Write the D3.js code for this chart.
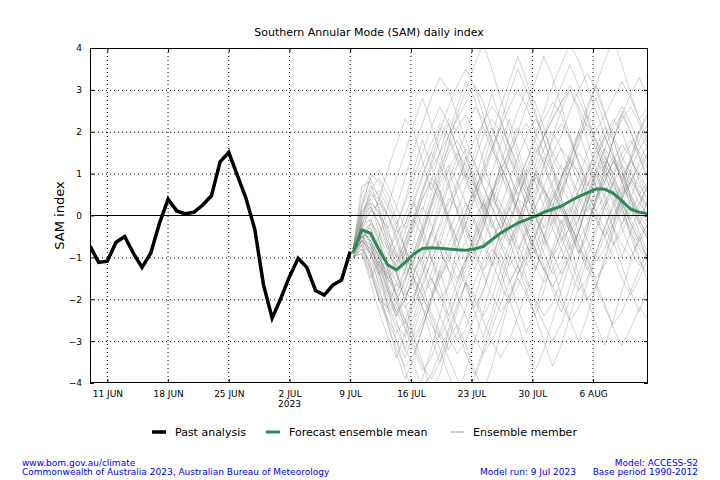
<!DOCTYPE html>
<html>
<head>
<meta charset="utf-8">
<script src="https://cdn.jsdelivr.net/npm/d3@7"></script>
<style>
  html, body { margin: 0; padding: 0; background: #fff; }
  svg { display: block; font-family: "DejaVu Sans", sans-serif; }
</style>
</head>
<body>
<svg id="chart" width="720" height="480"></svg>
<script>
// ---------- DATA ----------
const titleText = "Southern Annular Mode (SAM) daily index";
const yLabelText = "SAM index";
const yTicks = [-4, -3, -2, -1, 0, 1, 2, 3, 4];
const xTickDates = ["2023-06-11", "2023-06-18", "2023-06-25", "2023-07-02", "2023-07-09", "2023-07-16", "2023-07-23", "2023-07-30", "2023-08-06"];
const xDomain = ["2023-06-09T00:00Z", "2023-08-12T08:00Z"];

const pastStart = "2023-06-09T00:00Z";
const pastValues = [-0.73, -1.12, -1.09, -0.64, -0.50, -0.90, -1.24, -0.90, -0.19, 0.39,
  0.11, 0.04, 0.08, 0.25, 0.47, 1.28, 1.51, 0.95, 0.40, -0.33,
  -1.65, -2.45, -1.98, -1.46, -1.02, -1.24, -1.79, -1.90, -1.66, -1.54, -0.86];

const forecastStart = "2023-07-09T08:00Z";
const meanValues = [-0.88, -0.35, -0.42, -0.82, -1.18, -1.30, -1.12, -0.92, -0.79, -0.77,
  -0.78, -0.80, -0.82, -0.83, -0.80, -0.74, -0.58, -0.42, -0.30, -0.18,
  -0.10, -0.02, 0.08, 0.15, 0.22, 0.34, 0.45, 0.54, 0.63, 0.63,
  0.53, 0.35, 0.15, 0.08, 0.04];

const member01 = [-0.9,-0.2,0.3,0.1,-0.4,-0.9,-1.4,-1.1,-0.5,0.2,0.9,1.5,1.8,1.4,0.8,0.3,-0.2,-0.6,-0.3,0.4,1.1,1.6,1.3,0.7,0.2,-0.4,-0.9,-0.5,0.3,1.0,1.4,1.1,0.5,0.0,-0.3];
const member02 = [-1.0,-0.6,-0.9,-1.5,-2.1,-2.6,-2.9,-2.4,-1.8,-1.5,-1.9,-2.5,-3.0,-2.7,-2.0,-1.3,-0.8,-1.1,-1.6,-1.2,-0.5,0.2,0.6,0.3,-0.3,-0.8,-0.4,0.3,0.9,1.3,0.8,0.2,-0.5,-1.1,-1.4];
const member03 = [-0.8,0.0,0.6,0.9,0.5,-0.1,-0.8,-1.5,-1.9,-1.6,-1.0,-0.4,0.1,0.7,1.3,1.9,2.3,2.0,1.4,0.8,0.3,0.6,1.2,1.8,2.2,1.9,1.2,0.6,0.1,0.5,1.0,1.5,1.8,1.4,0.9];
const member04 = [-0.9,-0.5,-0.8,-1.3,-1.8,-2.0,-1.6,-0.9,-0.2,0.5,1.1,1.6,2.1,2.4,2.0,1.3,0.6,-0.1,-0.6,-0.2,0.5,1.0,0.7,0.1,-0.5,-1.0,-1.6,-2.0,-1.7,-1.1,-0.4,0.2,0.8,1.2,1.5];
const member05 = [-0.9,-0.4,-0.2,-0.6,-1.3,-1.9,-2.5,-3.1,-3.6,-3.9,-3.5,-2.8,-2.2,-1.6,-1.9,-2.4,-2.0,-1.3,-0.7,-0.1,0.4,0.9,0.6,0.0,-0.6,-0.3,0.3,1.0,1.6,2.1,1.8,1.2,0.7,0.3,0.0];
const member06 = [-0.8,0.3,0.9,1.1,0.7,0.2,-0.3,-0.1,0.5,1.2,1.8,2.3,2.0,1.5,0.9,0.4,-0.2,-0.7,-1.2,-0.9,-0.3,0.4,1.0,1.5,1.1,0.6,0.0,-0.6,-1.1,-0.8,-0.2,0.5,1.1,1.6,1.9];
const member07 = [-1.0,-0.7,-1.2,-1.8,-2.3,-2.1,-1.5,-0.9,-1.2,-1.8,-2.4,-2.9,-3.3,-3.0,-2.4,-1.8,-1.2,-0.6,-0.1,0.4,0.2,-0.3,-0.9,-1.4,-1.1,-0.5,0.2,0.7,1.1,0.8,0.3,-0.3,-0.8,-1.2,-0.9];
const member08 = [-0.9,-0.3,-0.1,-0.5,-0.9,-1.2,-0.8,-0.2,0.4,0.9,0.6,0.0,-0.6,-1.1,-0.7,-0.1,0.5,1.2,1.9,2.5,3.0,2.7,2.1,1.4,0.9,1.3,1.9,2.4,2.1,1.5,0.9,0.5,0.8,1.3,1.7];
const member09 = [-0.9,-0.6,-0.7,-1.1,-1.6,-1.4,-0.9,-0.3,0.2,-0.2,-0.8,-1.3,-1.6,-1.2,-0.6,-0.1,0.4,0.1,-0.4,-0.9,-1.5,-2.0,-2.4,-2.1,-1.5,-0.9,-0.3,0.3,0.8,1.2,0.9,0.3,-0.2,-0.6,-0.4];
const member10 = [-0.8,0.1,0.4,0.0,-0.6,-1.0,-0.7,-0.1,0.6,1.3,2.0,2.6,3.1,3.5,3.1,2.4,1.7,1.0,0.5,0.1,-0.4,-0.9,-0.5,0.2,0.8,1.3,1.0,0.4,-0.1,-0.5,-0.2,0.4,0.9,0.6,0.2];
const member11 = [-1.0,-0.8,-1.3,-2.0,-2.6,-3.2,-3.6,-3.3,-2.7,-2.0,-1.4,-0.9,-1.2,-1.7,-2.2,-1.8,-1.1,-0.4,0.2,0.7,1.1,0.8,0.2,-0.3,-0.8,-1.3,-1.8,-1.5,-0.9,-0.3,0.2,0.7,0.4,-0.1,-0.6];
const member12 = [-0.9,-0.2,0.2,-0.2,-0.8,-1.4,-1.8,-2.1,-1.7,-1.1,-0.5,0.1,0.6,1.0,0.7,0.2,-0.3,0.2,0.8,1.4,1.9,2.3,2.0,1.5,1.9,2.5,3.0,3.4,3.0,2.4,1.9,1.4,1.0,0.7,0.4];
const member13 = [-0.9,-0.5,-0.4,-0.8,-1.1,-0.7,-0.2,0.4,1.0,1.5,1.2,0.7,0.1,-0.4,-0.9,-1.4,-1.9,-2.3,-2.0,-1.4,-0.8,-0.2,0.3,0.8,1.2,0.9,0.4,-0.1,0.3,0.8,1.3,1.7,1.4,0.8,0.3];
const member14 = [-0.9,-0.1,0.5,0.4,0.0,-0.5,-1.1,-1.7,-2.2,-2.6,-2.9,-2.5,-1.9,-1.3,-0.8,-0.3,0.3,0.9,1.4,1.0,0.5,0.0,-0.5,-1.0,-0.6,0.0,0.6,1.1,1.5,1.9,2.3,2.0,1.4,0.9,0.5];
const member15 = [-0.8,-0.4,-0.6,-1.0,-1.5,-1.9,-2.2,-1.9,-1.4,-0.8,-0.3,0.3,0.8,1.3,1.8,2.2,2.6,2.3,1.7,1.2,0.7,0.2,-0.3,0.1,0.6,1.1,1.5,1.2,0.7,0.2,-0.3,-0.7,-1.0,-0.6,-0.2];
const member16 = [-1.0,-0.7,-0.9,-1.4,-2.0,-2.4,-2.0,-1.4,-0.9,-0.4,-0.8,-1.3,-1.9,-2.4,-2.9,-3.3,-3.0,-2.5,-1.9,-1.4,-0.9,-0.4,0.0,0.4,0.9,1.4,1.0,0.5,0.1,-0.3,-0.7,-0.4,0.1,0.5,0.8];
const member17 = [-0.9,-0.3,0.1,0.3,0.0,-0.4,-0.2,0.3,0.9,1.5,2.1,1.8,1.3,0.8,0.4,0.9,1.5,2.1,2.6,3.0,2.6,2.0,1.5,1.1,0.7,0.3,-0.1,0.4,1.0,1.6,2.1,2.4,2.0,1.5,1.1];
const member18 = [-0.9,-0.5,-0.5,-0.9,-1.4,-1.7,-1.3,-0.8,-1.1,-1.5,-2.0,-1.7,-1.1,-0.6,-0.1,0.3,-0.1,-0.6,-1.0,-1.4,-1.0,-0.5,0.1,0.6,0.3,-0.2,-0.7,-1.1,-1.5,-1.2,-0.7,-0.2,0.2,-0.2,-0.6];
const member19 = [-0.8,0.2,0.7,0.5,0.0,-0.6,-1.2,-0.9,-0.3,0.3,0.8,1.2,0.8,0.3,-0.2,-0.7,-1.2,-0.8,-0.2,0.4,1.0,1.5,1.9,2.3,2.7,3.1,2.8,2.3,1.8,1.4,1.0,1.3,1.7,2.0,1.6];
const member20 = [-1.0,-0.9,-1.4,-2.0,-2.5,-2.8,-2.5,-2.0,-1.4,-0.8,-0.2,0.4,0.2,-0.3,-0.8,-1.3,-1.0,-0.4,0.2,-0.2,-0.7,-1.2,-1.6,-1.3,-0.8,-0.2,0.4,0.9,1.3,1.0,0.5,0.0,-0.4,-0.8,-1.1];
const member21 = [-0.9,-0.4,-0.3,-0.7,-1.2,-1.6,-1.9,-1.6,-1.0,-0.5,0.1,0.7,1.2,1.6,1.3,0.7,0.2,-0.3,-0.7,-0.3,0.3,0.9,1.4,1.0,0.4,-0.2,-0.6,-0.2,0.4,0.9,1.3,0.9,0.4,0.0,0.3];
const member22 = [-0.9,-0.2,-0.1,-0.6,-1.3,-2.0,-2.7,-3.2,-3.7,-3.4,-2.8,-2.2,-1.6,-1.0,-0.5,0.0,0.5,1.0,0.6,0.1,-0.4,-0.9,-1.3,-1.7,-2.1,-2.5,-2.2,-1.6,-1.0,-0.5,0.0,0.4,0.8,0.5,0.1];
const member23 = [-0.8,0.0,0.2,-0.2,-0.7,-1.1,-0.8,-0.2,0.4,0.8,0.4,-0.1,-0.6,-0.2,0.4,1.0,1.6,2.1,1.7,1.1,0.6,1.0,1.6,2.0,1.6,1.0,0.5,0.1,0.6,1.2,1.8,2.3,2.6,2.2,1.7];
const member24 = [-0.9,-0.6,-0.8,-1.2,-1.5,-1.3,-0.8,-1.2,-1.7,-2.3,-2.8,-3.2,-2.8,-2.2,-1.6,-1.1,-0.6,-0.1,0.4,0.9,0.5,0.0,-0.5,-0.9,-1.4,-1.0,-0.4,0.2,0.0,-0.5,-1.0,-1.5,-1.9,-1.5,-1.0];
const member25 = [-0.9,-0.3,-0.4,-0.9,-1.5,-1.8,-1.5,-1.0,-0.4,0.2,0.7,1.1,1.5,1.2,0.7,0.2,0.6,1.1,1.5,1.9,2.2,1.8,1.2,0.6,0.1,-0.4,-0.1,0.5,1.1,1.6,1.3,0.8,0.3,-0.1,-0.5];
const member26 = [-1.0,-0.6,-0.8,-1.2,-1.7,-2.2,-2.6,-2.2,-1.6,-1.1,-0.6,-1.0,-1.5,-1.1,-0.5,0.1,0.6,0.3,-0.2,-0.7,-1.2,-0.8,-0.2,0.4,0.9,1.4,1.9,2.2,1.8,1.2,0.6,0.1,-0.3,-0.7,-1.0];
const member27 = [-0.9,-0.1,0.4,0.6,0.2,-0.3,-0.8,-1.3,-1.0,-0.4,0.2,0.8,1.4,2.0,2.6,2.3,1.8,1.2,0.7,0.2,-0.3,-0.8,-1.3,-1.7,-1.3,-0.7,-0.1,0.5,1.0,1.4,1.0,0.4,-0.1,-0.5,-0.2];
const member28 = [-0.9,-0.5,-0.6,-1.0,-1.4,-1.1,-0.6,-0.1,-0.5,-1.0,-1.5,-1.1,-0.5,0.1,0.6,1.0,0.6,0.1,-0.4,-0.8,-0.4,0.2,0.7,1.2,1.6,1.3,0.8,0.3,-0.1,0.3,0.8,1.2,0.9,0.5,0.2];
const member29 = [-0.8,-0.3,-0.5,-1.0,-1.6,-2.1,-2.5,-2.9,-2.5,-1.9,-1.3,-0.7,-0.2,0.3,-0.1,-0.6,-1.1,-1.6,-2.1,-1.7,-1.1,-0.5,0.0,0.5,0.2,-0.3,-0.8,-1.3,-0.9,-0.3,0.3,0.8,1.3,1.0,0.6];
const member30 = [-0.9,-0.4,-0.2,-0.4,-0.8,-0.5,0.0,0.6,1.2,1.7,2.2,1.9,1.4,0.9,0.4,-0.1,-0.6,-0.2,0.3,0.8,1.3,1.8,2.3,2.7,2.4,1.8,1.3,0.8,0.4,0.8,1.3,1.0,0.5,0.1,-0.2];
const member31 = [-0.9,-0.2,0.1,0.0,-0.3,0.2,0.9,1.6,2.2,2.8,3.3,3.0,2.4,1.8,1.2,0.7,0.2,-0.3,0.1,0.7,1.3,1.9,2.5,3.1,3.6,4.1,3.7,3.1,2.5,1.9,1.4,0.9,1.3,1.8,2.2];
const member32 = [-1.0,-0.8,-1.1,-1.6,-2.2,-2.7,-3.2,-3.6,-4.1,-3.8,-3.3,-2.7,-2.1,-1.6,-2.0,-2.5,-3.0,-3.4,-3.0,-2.4,-1.8,-1.3,-0.8,-0.3,0.2,-0.2,-0.7,-1.2,-1.7,-2.2,-2.6,-2.3,-1.8,-1.3,-0.9];
const member33 = [-0.9,-0.4,-0.6,-1.1,-1.5,-1.2,-0.6,0.0,0.6,1.1,1.5,1.9,2.3,2.7,3.1,2.7,2.1,1.5,1.0,0.5,0.9,1.4,1.9,2.3,2.7,3.0,2.6,2.1,1.6,1.1,0.7,0.3,-0.1,0.3,0.7];
const member34 = [-0.9,-0.5,-0.7,-1.2,-1.8,-2.3,-2.0,-1.5,-1.9,-2.4,-2.9,-3.4,-3.9,-4.3,-3.9,-3.3,-2.7,-2.1,-1.6,-1.2,-1.6,-2.1,-2.6,-3.0,-2.6,-2.0,-1.4,-0.8,-0.3,0.2,0.6,0.3,-0.2,-0.6,-1.0];
const member35 = [-0.8,0.5,1.0,0.8,0.3,-0.2,0.3,0.9,1.5,2.1,2.6,2.2,1.6,1.0,0.5,0.1,0.5,1.0,1.6,2.1,1.7,1.1,0.6,0.2,-0.2,0.3,0.9,1.5,2.0,2.4,2.8,3.2,2.8,2.3,1.8];
const member36 = [-0.9,-0.6,-0.9,-1.4,-1.9,-2.3,-2.7,-3.0,-2.6,-2.1,-1.5,-1.0,-0.4,0.1,0.6,1.1,1.6,1.2,0.7,0.2,-0.3,-0.8,-1.3,-0.9,-0.4,0.1,0.6,1.0,1.4,1.8,2.2,2.6,2.2,1.7,1.3];
const member37 = [-0.9,-0.1,0.6,0.2,-0.5,-1.3,-2.1,-2.9,-3.5,-4.2,-3.8,-3.0,-2.6,-3.1,-3.7,-4.2,-3.6,-2.8,-2.0,-1.5,-1.9,-2.4,-1.8,-1.0,-0.3,0.2,-0.4,-1.0,-1.6,-2.1,-2.7,-3.1,-2.7,-2.2,-2.5];
const member38 = [-0.9,-0.6,-0.2,0.4,1.1,1.7,2.3,2.0,1.3,0.6,1.2,1.9,2.6,3.2,2.8,2.1,1.6,2.2,2.9,3.5,3.0,2.4,1.8,1.2,0.5,1.1,1.8,2.5,3.1,3.7,4.2,3.6,2.9,2.3,2.6];
const member39 = [-1.0,-0.9,-1.6,-2.3,-2.9,-3.4,-2.8,-2.0,-1.2,-0.4,0.4,1.1,0.5,-0.2,-0.9,-0.3,0.5,1.2,0.7,0.0,-0.7,-1.3,-0.6,0.2,0.9,1.5,2.0,1.4,0.7,0.0,-0.6,-1.2,-1.8,-2.3,-1.7];
const member40 = [-0.8,0.2,0.9,0.4,-0.3,-1.0,-0.4,0.3,-0.3,-1.0,-1.7,-2.4,-1.8,-1.1,-0.4,0.3,1.0,1.7,2.3,1.6,0.9,0.2,-0.5,-1.2,-1.9,-2.5,-3.0,-2.4,-1.7,-1.0,-0.3,0.4,1.1,0.5,-0.2];
const member41 = [-0.9,-0.3,-0.6,-1.3,-2.2,-3.0,-3.7,-4.3,-3.9,-3.2,-2.4,-1.6,-0.8,0.0,0.8,1.5,2.1,1.6,1.0,0.4,-0.2,0.5,1.2,1.9,2.5,3.0,2.5,1.8,1.1,0.5,-0.1,0.6,1.3,2.0,2.4];
const member42 = [-0.9,-0.5,-1.0,-0.5,0.2,0.9,1.5,2.2,2.8,2.2,1.5,0.8,0.1,-0.6,-1.3,-0.7,0.0,0.7,1.4,2.0,2.6,3.2,3.8,3.3,2.6,1.9,1.3,0.7,1.3,1.9,1.4,0.8,0.2,-0.4,-0.9];
const member43 = [-0.9,-0.7,-1.3,-2.0,-2.2,-1.6,-0.9,-1.5,-2.2,-2.9,-3.5,-3.0,-2.3,-1.6,-0.9,-0.2,0.5,0.0,-0.6,-1.2,-1.8,-2.4,-3.0,-3.6,-3.1,-2.4,-1.7,-1.0,-0.4,0.2,0.8,0.2,-0.4,-1.0,-1.6];
const member44 = [-0.8,0.7,0.8,0.1,-0.7,-1.4,-2.0,-1.4,-0.7,0.0,0.6,-0.1,-0.8,-0.2,0.5,1.2,1.9,2.6,3.2,3.8,3.2,2.5,1.8,1.1,0.4,-0.3,-0.9,-0.3,0.4,1.1,1.8,2.5,2.0,1.4,0.8];
const member45 = [-1.0,-0.4,-0.9,-1.7,-2.6,-3.3,-3.9,-3.4,-2.7,-2.0,-1.3,-2.0,-2.7,-3.3,-3.8,-3.2,-2.5,-1.8,-1.1,-0.4,0.3,1.0,0.5,-0.2,0.4,1.1,1.7,2.3,2.8,2.2,1.5,0.8,1.4,2.0,2.5];
const member46 = [-0.9,-0.2,-0.7,-1.4,-1.0,-0.3,0.4,1.1,1.8,1.2,0.5,-0.2,-0.9,-1.6,-2.3,-2.9,-2.3,-1.6,-0.9,-0.2,0.5,1.2,1.9,2.5,3.1,3.6,3.1,2.4,1.7,1.0,0.4,-0.2,0.4,1.0,1.5];
const member47 = [-0.9,-0.5,-0.3,-0.9,-1.7,-2.4,-1.8,-1.1,-0.4,0.3,1.0,1.7,2.4,3.0,3.6,4.1,3.5,2.8,2.1,1.4,0.7,0.0,-0.7,-0.1,0.6,1.3,2.0,2.6,3.1,2.5,1.8,1.1,0.4,-0.2,0.4];
const member48 = [-1.0,-0.8,-1.5,-1.1,-1.8,-2.5,-3.2,-2.6,-1.9,-2.5,-3.2,-3.8,-4.3,-3.7,-3.0,-2.3,-1.6,-0.9,-1.5,-2.2,-2.8,-2.2,-1.5,-0.8,-0.1,-0.7,-1.4,-2.0,-2.6,-3.1,-2.5,-1.8,-1.1,-0.5,-1.1];
const member49 = [-0.9,0.1,0.3,-0.4,-1.2,-1.9,-1.3,-0.6,0.1,0.8,1.5,2.2,1.6,0.9,1.5,2.2,2.9,2.3,1.6,0.9,0.2,-0.5,-1.2,-1.8,-2.3,-1.7,-1.0,-0.3,0.4,1.1,1.8,2.4,2.9,3.3,2.8];
const member50 = [-0.9,-0.6,-1.2,-1.9,-2.5,-3.0,-3.4,-2.8,-2.1,-1.4,-0.7,0.0,0.7,1.4,0.8,0.1,-0.6,-1.3,-2.0,-2.6,-3.2,-3.7,-3.2,-2.5,-1.8,-1.1,-0.4,0.3,1.0,0.4,-0.3,-1.0,-0.4,0.2,0.8];
const members = [member01, member02, member03, member04, member05, member06, member07, member08, member09,
  member10, member11, member12, member13, member14, member15, member16, member17, member18, member19,
  member20, member21, member22, member23, member24, member25, member26, member27, member28, member29,
  member30, member31, member32, member33, member34, member35, member36, member37, member38, member39,
  member40, member41, member42, member43, member44, member45, member46, member47, member48, member49, member50];

const legendLabels = ["Past analysis", "Forecast ensemble mean", "Ensemble member"];
const footerLeft = ["www.bom.gov.au/climate", "Commonwealth of Australia 2023, Australian Bureau of Meteorology"];
const footerRight = ["Model: ACCESS-S2", "Base period 1990-2012"];
const footerMid = "Model run: 9 Jul 2023";

// ---------- CHART ----------
const DAY = 86400000;
const svg = d3.select("#chart");
const m = { left: 90, right: 648, top: 48, bottom: 383 };

const x = d3.scaleUtc().domain(xDomain.map(d => new Date(d))).range([m.left, m.right]);
const y = d3.scaleLinear().domain([-4, 4]).range([m.bottom, m.top]);

const pastStartT = new Date(pastStart).getTime();
const fcStartT = new Date(forecastStart).getTime();
const pastData = pastValues.map((v, i) => ({ t: new Date(pastStartT + i * DAY), v }));
const fcDate = i => new Date(fcStartT + i * DAY);

svg.append("defs").append("clipPath").attr("id", "plotclip")
  .append("rect").attr("x", m.left).attr("y", m.top)
  .attr("width", m.right - m.left).attr("height", m.bottom - m.top);

// title
svg.append("text").attr("x", (m.left + m.right) / 2).attr("y", 36)
  .attr("text-anchor", "middle").attr("font-size", 11).attr("fill", "#000").text(titleText);

// grid
const grid = svg.append("g");
const xTicks = xTickDates.map(d => new Date(d + "T00:00Z"));
grid.selectAll(".gx").data(xTicks).join("line")
  .attr("x1", d => x(d)).attr("x2", d => x(d)).attr("y1", m.top).attr("y2", m.bottom)
  .attr("stroke", "#000").attr("stroke-width", 1).attr("stroke-dasharray", "1,3");
grid.selectAll(".gy").data(yTicks.filter(d => d !== 0 && Math.abs(d) !== 4)).join("line")
  .attr("x1", m.left).attr("x2", m.right).attr("y1", d => y(d) + 0.5).attr("y2", d => y(d) + 0.5)
  .attr("stroke", "#000").attr("stroke-width", 1).attr("stroke-dasharray", "1,3");

// ensemble members
const line = d3.line().x(d => x(d.t)).y(d => y(d.v));
const plot = svg.append("g").attr("clip-path", "url(#plotclip)");
plot.selectAll(".member").data(members).join("path")
  .attr("d", vals => line(vals.map((v, i) => ({ t: fcDate(i), v }))))
  .attr("fill", "none").attr("stroke", "#808080").attr("stroke-opacity", 0.34).attr("stroke-width", 1);

// zero line
svg.append("line").attr("x1", m.left).attr("x2", m.right).attr("y1", y(0)).attr("y2", y(0))
  .attr("stroke", "#000").attr("stroke-width", 1.2);

// past analysis
plot.append("path").attr("d", line(pastData)).attr("fill", "none")
  .attr("stroke", "#000").attr("stroke-width", 3.5).attr("stroke-linejoin", "miter");

// ensemble mean
plot.append("path").attr("d", line(meanValues.map((v, i) => ({ t: fcDate(i), v }))))
  .attr("fill", "none").attr("stroke", "#2e8b57").attr("stroke-width", 3).attr("stroke-linejoin", "round");

// frame
svg.append("rect").attr("x", m.left + 0.5).attr("y", m.top + 0.5)
  .attr("width", m.right - m.left - 1).attr("height", m.bottom - m.top - 1)
  .attr("fill", "none").attr("stroke", "#000").attr("stroke-width", 1);

// axes (inner ticks)
const fmt = d => d3.utcFormat("%-d %b")(d).toUpperCase();
const xAxisB = d3.axisBottom(x).tickValues(xTicks).tickSize(-4).tickPadding(8).tickFormat(fmt);
const gxb = svg.append("g").attr("transform", `translate(0,${m.bottom})`).call(xAxisB);
gxb.select(".domain").remove();
gxb.selectAll("text").attr("font-size", 9).attr("font-family", "DejaVu Sans").attr("fill", "#000");
const gxt = svg.append("g").attr("transform", `translate(0,${m.top})`)
  .call(d3.axisTop(x).tickValues(xTicks).tickSize(-4).tickFormat(""));
gxt.select(".domain").remove();

svg.append("text").attr("x", x(new Date("2023-07-02T00:00Z"))).attr("y", 407)
  .attr("text-anchor", "middle").attr("font-size", 9).attr("fill", "#000").text("2023");

const yFmt = d => (d < 0 ? "\u2212" + Math.abs(d) : String(d));
const gyl = svg.append("g").attr("transform", `translate(${m.left},0)`)
  .call(d3.axisLeft(y).tickValues(yTicks).tickSize(-4).tickPadding(8).tickFormat(yFmt));
gyl.select(".domain").remove();
gyl.selectAll("text").attr("font-size", 9).attr("font-family", "DejaVu Sans").attr("fill", "#000");
const gyr = svg.append("g").attr("transform", `translate(${m.right},0)`)
  .call(d3.axisRight(y).tickValues(yTicks).tickSize(-4).tickFormat(""));
gyr.select(".domain").remove();

// y label
svg.append("text").attr("transform", `translate(64,${(m.top + m.bottom) / 2}) rotate(-90)`)
  .attr("text-anchor", "middle").attr("font-size", 13).attr("fill", "#000").text(yLabelText);

// legend
const leg = svg.append("g").attr("font-size", 11);
const legItems = [
  { x: 152, color: "#000", w: 3.5, label: legendLabels[0] },
  { x: 266, color: "#2e8b57", w: 3, label: legendLabels[1] },
  { x: 450, color: "#999", w: 1, label: legendLabels[2] }
];
legItems.forEach(it => {
  leg.append("line").attr("x1", it.x).attr("x2", it.x + 14).attr("y1", 432).attr("y2", 432)
    .attr("stroke", it.color).attr("stroke-width", it.w);
  leg.append("text").attr("x", it.x + 23).attr("y", 436).attr("fill", "#000").text(it.label);
});

// footer
const foot = svg.append("g").attr("font-size", 9).attr("fill", "#0000ff");
foot.append("text").attr("x", 22).attr("y", 466).text(footerLeft[0]);
foot.append("text").attr("x", 22).attr("y", 475).text(footerLeft[1]);
foot.append("text").attr("x", 698).attr("y", 466).attr("text-anchor", "end").text(footerRight[0]);
foot.append("text").attr("x", 698).attr("y", 475).attr("text-anchor", "end").text(footerRight[1]);
foot.append("text").attr("x", 576).attr("y", 475).attr("text-anchor", "end").text(footerMid);
</script>
</body>
</html>
